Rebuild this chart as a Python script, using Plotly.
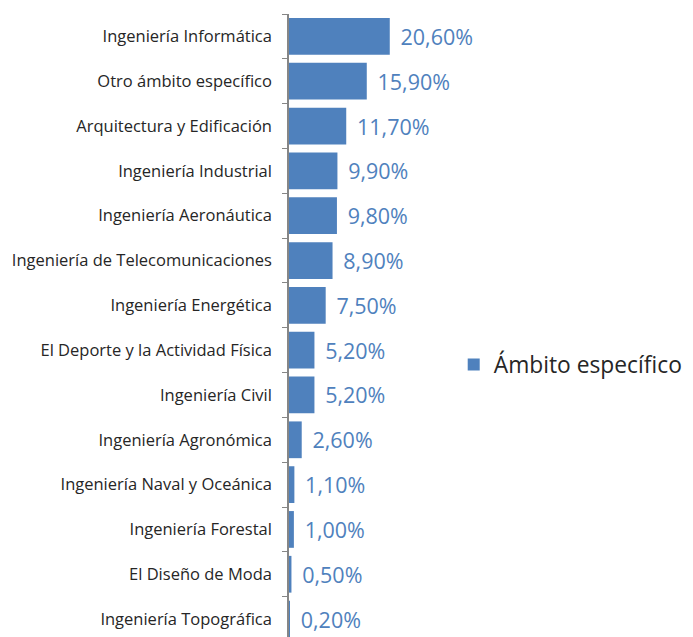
import plotly.graph_objects as go

# categories, top to bottom
categorias = [
    'Ingeniería Informática',
    'Otro ámbito específico',
    'Arquitectura y Edificación',
    'Ingeniería Industrial',
    'Ingeniería Aeronáutica',
    'Ingeniería de Telecomunicaciones',
    'Ingeniería Energética',
    'El Deporte y la Actividad Física',
    'Ingeniería Civil',
    'Ingeniería Agronómica',
    'Ingeniería Naval y Oceánica',
    'Ingeniería Forestal',
    'El Diseño de Moda',
    'Ingeniería Topográfica',
]
# percentage of each field
valores = [20.6, 15.9, 11.7, 9.9, 9.8, 8.9, 7.5, 5.2, 5.2, 2.6, 1.1, 1.0, 0.5, 0.2]

# labels with comma decimal separator
etiquetas = ['\u00a0\u200a' + f'{v:.2f}%'.replace('.', ',') for v in valores]

azul = '#4F81BD'

fig = go.Figure()
fig.add_trace(go.Bar(
    x=valores,
    y=categorias,
    orientation='h',
    name='Ámbito específico',
    marker=dict(color=azul, line=dict(width=0)),
    width=0.82,
    text=etiquetas,
    textposition='outside',
    textfont=dict(color=azul, size=21.5, family='Open Sans'),
    cliponaxis=False,
))

# page body has an 8px margin, so the figure is offset by 8px
fig.update_layout(
    width=693,
    height=637,
    margin=dict(l=281, r=231, t=6, b=8, autoexpand=False),
    paper_bgcolor='white',
    plot_bgcolor='white',
    font=dict(family='Open Sans', color='#262626'),
    showlegend=True,
    legend=dict(
        x=0.91, y=0.437, xanchor='left', yanchor='middle',
        font=dict(size=22.8, color='#262626'),
        itemwidth=30,
        bgcolor='rgba(0,0,0,0)',
    ),
)
fig.update_xaxes(range=[0, 37], visible=False, automargin=False)
fig.update_yaxes(
    automargin=False,
    categoryorder='array',
    categoryarray=categorias,
    range=[13.4, -0.5],
    showline=True,
    linecolor='#868686',
    linewidth=1.5,
    ticks='outside',
    tickson='boundaries',
    ticklen=5,
    tickcolor='#868686',
    ticklabelstandoff=12,
    tickfont=dict(size=16.5, color='#262626'),
    showgrid=False,
)

fig.write_html('out.html')
